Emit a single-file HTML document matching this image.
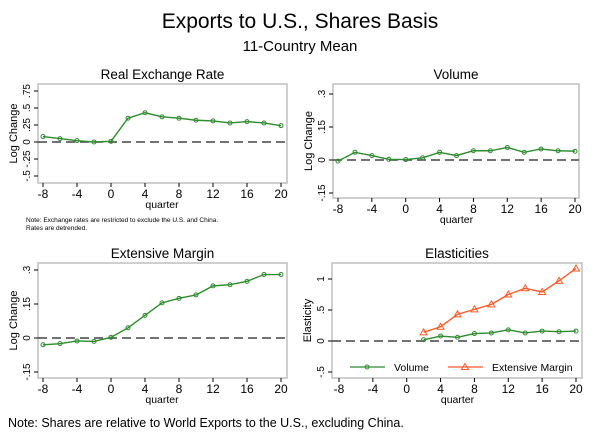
<!DOCTYPE html>
<html><head><meta charset="utf-8"><style>
body{margin:0;background:#fff;}
svg text{font-family:"Liberation Sans",Arial,sans-serif;fill:#000;}
</style></head><body>
<svg id="c" width="600" height="440" viewBox="0 0 600 440" xmlns="http://www.w3.org/2000/svg">
<text x="300" y="28" font-size="21" text-anchor="middle">Exports to U.S., Shares Basis</text>
<text x="300" y="51" font-size="15" text-anchor="middle">11-Country Mean</text>
<text x="26" y="222" font-size="6.5">Note: Exchange rates are restricted to exclude the U.S. and China.</text>
<text x="26" y="230" font-size="6.5">Rates are detrended.</text>
<text x="8" y="427" font-size="12.5">Note: Shares are relative to World Exports to the U.S., excluding China.</text>
<g id="g"></g>
</svg>
<script>
const quarters=[-8,-6,-4,-2,0,2,4,6,8,10,12,14,16,18,20];
const rerValues=[0.08,0.05,0.02,0.0,0.01,0.35,0.43,0.37,0.35,0.32,0.31,0.28,0.30,0.28,0.24];
const volValues=[-0.005,0.035,0.02,0.003,0.002,0.01,0.035,0.02,0.042,0.042,0.057,0.035,0.05,0.042,0.04];
const extValues=[-0.03,-0.025,-0.013,-0.015,0.003,0.045,0.10,0.155,0.175,0.19,0.23,0.235,0.25,0.28,0.28];
const elasQuarters=[2,4,6,8,10,12,14,16,18,20];
const elasVol=[0.02,0.08,0.06,0.12,0.13,0.18,0.13,0.16,0.15,0.16];
const elasExt=[0.14,0.23,0.43,0.51,0.59,0.75,0.85,0.79,0.97,1.17];
const xTicks=[-8,-4,0,4,8,12,16,20];
const rerTicks=[-0.5,-0.25,0,0.25,0.5,0.75], rerLabels=["-.5","-.25","0",".25",".5",".75"];
const volTicks=[-0.15,0,0.15,0.3], volLabels=["-.15","0",".15",".3"];
const elTicks=[-0.5,0,0.5,1], elLabels=["-.5","0",".5","1"];
const NS="http://www.w3.org/2000/svg";
const G=document.getElementById('g');
function mk(t,a,p){const e=document.createElementNS(NS,t);for(const k in a)e.setAttribute(k,a[k]);(p||G).appendChild(e);return e;}
function panel(o){
  const x=v=>o.x0+(v+8)/28*(o.x1-o.x0);
  const y=v=>o.yA+(v-o.vA)/(o.vB-o.vA)*(o.yB-o.yA);
  const g=mk('g',{});
  
  
  const f=mk('rect',{x:o.L,y:o.T,width:o.R-o.L,height:o.B-o.T,fill:'#fff',stroke:'#bfbfbf','stroke-width':1.5},g);
  
  const t=mk('text',{x:(o.L+o.R)/2,y:o.T-5,'font-size':13.5,'text-anchor':'middle'},g);t.textContent=o.title;
  
  xTicks.forEach(v=>{mk('line',{x1:x(v),x2:x(v),y1:o.B,y2:o.B+4,stroke:'#000'},g);
    const l=mk('text',{x:x(v),y:o.B+15,'font-size':12,'text-anchor':'middle'},g);l.textContent=v;
    });
  const xt=mk('text',{x:(o.x0+o.x1)/2,y:o.B+25,'font-size':10.5,'text-anchor':'middle'},g);xt.textContent='quarter';
  
  o.ticks.forEach((v,i)=>{mk('line',{x1:o.L-4,x2:o.L,y1:y(v),y2:y(v),stroke:'#000'},g);
    const l=mk('text',{x:o.L-8,y:y(v),'font-size':10,'text-anchor':'middle',transform:`rotate(-90 ${o.L-8} ${y(v)})`},g);l.textContent=o.labels[i];
    });
  const cy=(o.T+o.B)/2;
  const yt=mk('text',{x:o.L-21,y:cy,'font-size':11,'text-anchor':'middle',transform:`rotate(-90 ${o.L-21} ${cy})`},g);yt.textContent=o.ytitle;
  
  const z=mk('line',{x1:o.L,x2:o.R,y1:y(0),y2:y(0),stroke:'#444','stroke-width':1.6,'stroke-dasharray':'9,5'},g);
  
  o.series.forEach(s=>{
    const pts=s.xs.map((q,i)=>x(q)+','+y(s.v[i])).join(' ');
    const pl=mk('polyline',{points:pts,fill:'none',stroke:s.c,'stroke-width':1.4},g);
    
    s.xs.forEach((q,i)=>{let m;
      if(s.tri){const px=x(q),py=y(s.v[i]);m=mk('polygon',{points:`${px},${py-3.5} ${px-3.5},${py+2.5} ${px+3.5},${py+2.5}`,fill:'none',stroke:s.c},g);}
      else m=mk('circle',{cx:x(q),cy:y(s.v[i]),r:2,fill:'none',stroke:s.c},g);
      });
  });
  return {g,x,y};
}
panel({name:'rer-panel',title:'Real Exchange Rate',ytitle:'Log Change',L:38,R:287,T:84,B:183,x0:43,x1:281,yA:142,vA:0,yB:108,vB:0.5,ticks:rerTicks,labels:rerLabels,
  series:[{n:'rer',xs:quarters,v:rerValues,c:'#2e8b2e'}]});
panel({name:'volume-panel',title:'Volume',ytitle:'Log Change',L:333,R:579,T:84,B:198,x0:338,x1:575,yA:160,vA:0,yB:127,vB:0.15,ticks:volTicks,labels:volLabels,
  series:[{n:'volume',xs:quarters,v:volValues,c:'#2e8b2e'}]});
panel({name:'ext-panel',title:'Extensive Margin',ytitle:'Log Change',L:38,R:287,T:263,B:378,x0:43,x1:281,yA:338,vA:0,yB:304,vB:0.15,ticks:volTicks,labels:volLabels,
  series:[{n:'ext',xs:quarters,v:extValues,c:'#2e8b2e'}]});
const p4=panel({name:'elasticities-panel',title:'Elasticities',ytitle:'Elasticity',L:332,R:582,T:263,B:378,x0:339,x1:576,yA:341,vA:0,yB:310,vB:0.5,ticks:elTicks,labels:elLabels,
  series:[{n:'elas-volume',xs:elasQuarters,v:elasVol,c:'#2e8b2e'},{n:'elas-ext',xs:elasQuarters,v:elasExt,c:'#ff5a2a',tri:true}]});
const lg=mk('g',{},p4.g);

mk('line',{x1:350,x2:385,y1:367,y2:367,stroke:'#2e8b2e','stroke-width':1.3},lg);
mk('circle',{cx:367,cy:367,r:2,fill:'none',stroke:'#2e8b2e'},lg);
let t1=mk('text',{x:394,y:371,'font-size':10.5},lg);t1.textContent='Volume';

mk('line',{x1:448,x2:483,y1:367,y2:367,stroke:'#ff5a2a','stroke-width':1.3},lg);
mk('polygon',{points:'465,363.5 461.5,369.5 468.5,369.5',fill:'none',stroke:'#ff5a2a'},lg);
let t2=mk('text',{x:492,y:371,'font-size':10.5},lg);t2.textContent='Extensive Margin';

</script>
</body></html>
